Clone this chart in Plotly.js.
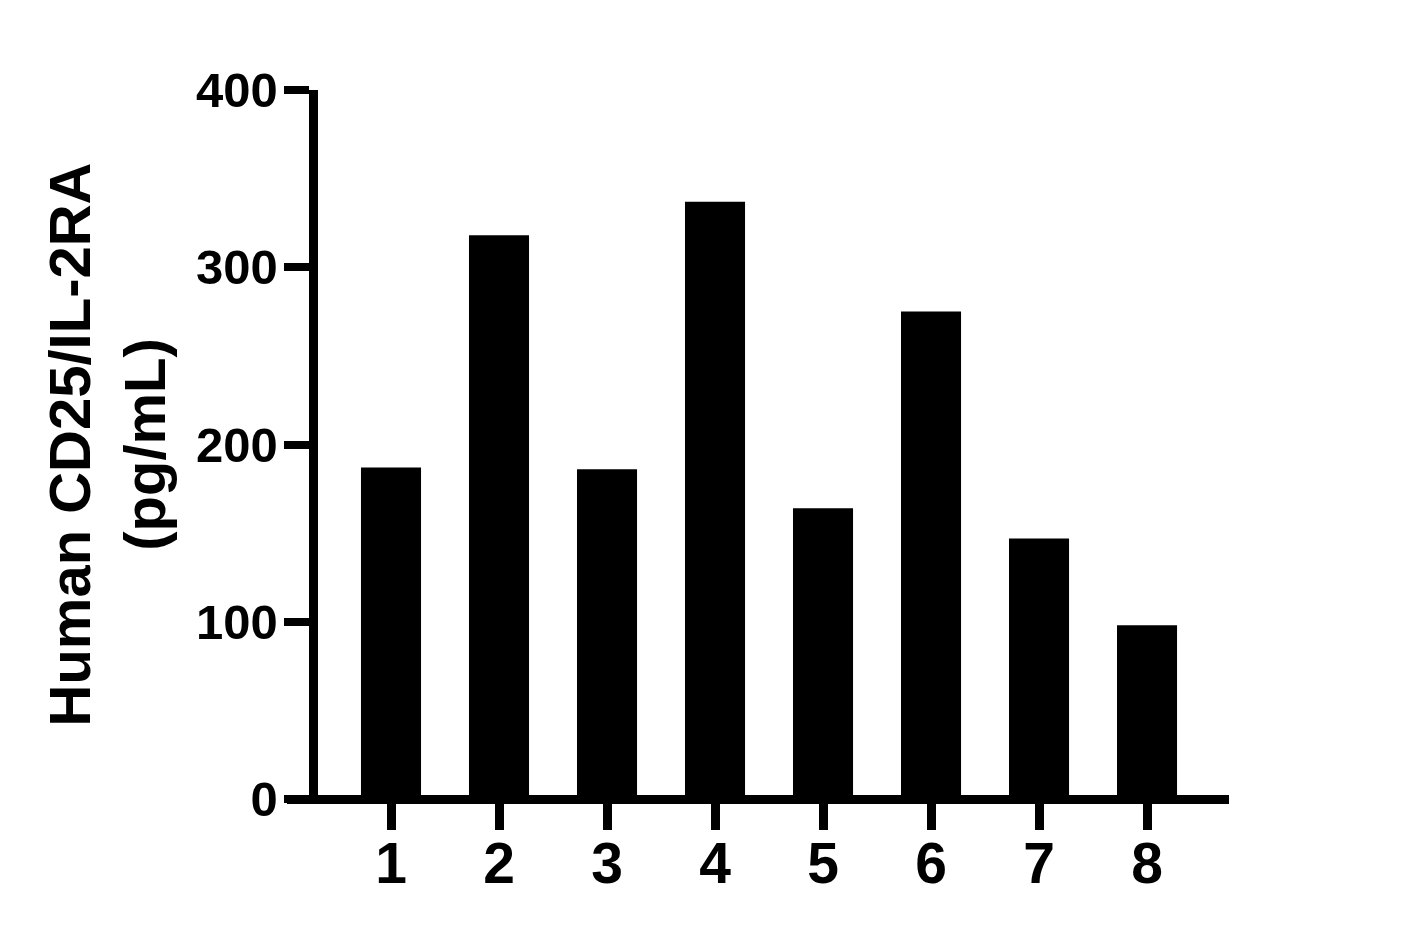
<!DOCTYPE html>
<html>
<head>
<meta charset="utf-8">
<script src="https://cdn.plot.ly/plotly-3.0.1.min.js"></script>
<style>
  html, body { margin: 0; padding: 0; background: #fff; }
  #chart { width: 1405px; height: 939px; }
</style>
</head>
<body>
<div id="chart"></div>
<script>
// sample numbers and measured concentrations
const samples = [1, 2, 3, 4, 5, 6, 7, 8];
const concentration = [187, 318, 186, 337, 164, 275, 147, 98];
const yTicks = [0, 100, 200, 300, 400];

const font = "Liberation Sans, Arial, sans-serif";

const trace = {
  type: "bar",
  x: samples,
  y: concentration,
  width: 0.556,
  marker: { color: "#000000", line: { width: 0 } },
  hoverinfo: "x+y",
};

const layout = {
  width: 1405,
  height: 939,
  paper_bgcolor: "#ffffff",
  plot_bgcolor: "#ffffff",
  showlegend: false,
  margin: { l: 287, r: 176, t: 90, b: 140, pad: 0 },
  font: { family: font, color: "#000000" },
  xaxis: {
    range: [0.037, 8.759],
    anchor: "free",
    position: 0,
    tickmode: "array",
    tickvals: samples,
    ticktext: samples.map(String),
    ticks: "outside",
    ticklen: 26,
    tickwidth: 9,
    tickcolor: "#000000",
    ticklabelstandoff: -15,
    showline: true,
    linewidth: 9,
    linecolor: "#000000",
    showgrid: false,
    zeroline: false,
    tickfont: { family: font, size: 57, weight: "bold", color: "#000000" },
  },
  yaxis: {
    range: [0, 400],
    anchor: "free",
    position: 0.0271,
    tickmode: "array",
    tickvals: yTicks,
    ticktext: yTicks.map(String),
    ticks: "outside",
    ticklen: 25,
    tickwidth: 8,
    tickcolor: "#000000",
    ticklabelstandoff: -4,
    showline: true,
    linewidth: 9,
    linecolor: "#000000",
    showgrid: false,
    zeroline: false,
    tickfont: { family: font, size: 49, weight: "bold", color: "#000000" },
    title: {
      text: "Human CD25/IL-2RA<br>(pg/mL)",
      font: { family: font, size: 58, weight: "bold", color: "#000000" },
      standoff: 10,
    },
  },
};

Plotly.newPlot("chart", [trace], layout, { displayModeBar: false, staticPlot: true });
</script>
</body>
</html>
